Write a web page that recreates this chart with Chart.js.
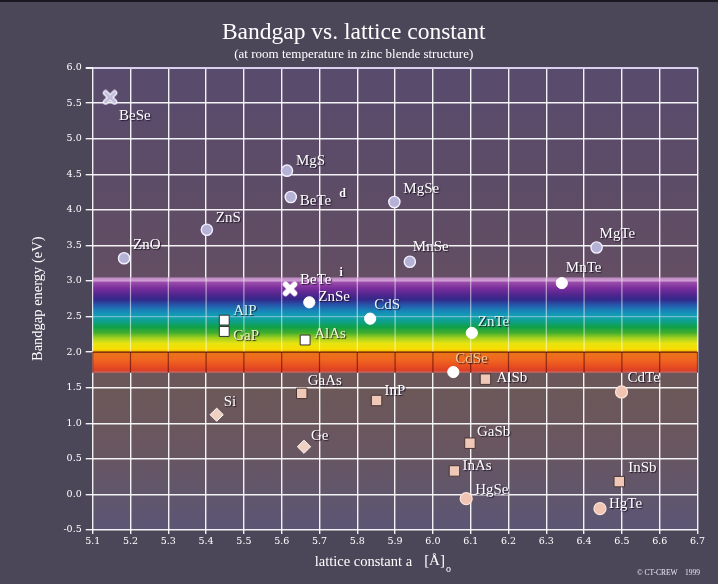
<!DOCTYPE html>
<html>
<head>
<meta charset="utf-8">
<script src="https://cdn.jsdelivr.net/npm/chart.js@4/dist/chart.umd.min.js"></script>
<style>
  html, body { margin: 0; padding: 0; background: #4b4759; }
  #wrap { width: 718px; height: 584px; }
</style>
</head>
<body>
<div id="wrap"><canvas id="chart" width="718" height="584"></canvas></div>
<script>
// ---------------- data ----------------
const materials = ['BeSe','ZnO','ZnS','MgS','BeTe d','MgSe','MnSe','MgTe','MnTe','BeTe i','ZnSe','CdS','ZnTe','CdSe',
                   'AlP','GaP','AlAs','AlSb','CdTe','GaAs','InP','Si','Ge','GaSb','InAs','InSb','HgSe','HgTe'];
const latticeConstant = [5.146,5.183,5.402,5.614,5.624,5.898,5.939,6.433,6.341,5.622,5.673,5.834,6.103,6.054,
                         5.448,5.448,5.662,6.139,6.499,5.653,5.851,5.428,5.659,6.098,6.057,6.493,6.088,6.442];
const bandgapEnergy = [5.58,3.32,3.72,4.55,4.18,4.11,3.27,3.47,2.97,2.89,2.70,2.47,2.27,1.72,
                       2.45,2.29,2.17,1.62,1.44,1.42,1.32,1.12,0.67,0.72,0.33,0.18,-0.06,-0.20];
const markerGroup = ['wideCross','wide','wide','wide','wide','wide','wide','wide','visible','visibleCross','visible','visible','visible','visible',
                     'visibleSquare','visibleSquare','visibleSquare','narrowSquare','narrowCircle','narrowSquare','narrowSquare','narrowDiamond','narrowDiamond',
                     'narrowSquare','narrowSquare','narrowSquare','narrowCircle','narrowCircle'];
const xTickValues = [5.1,5.2,5.3,5.4,5.5,5.6,5.7,5.8,5.9,6.0,6.1,6.2,6.3,6.4,6.5,6.6,6.7];
const yTickValues = [-0.5,0.0,0.5,1.0,1.5,2.0,2.5,3.0,3.5,4.0,4.5,5.0,5.5,6.0];
const visibleBand = [1.71, 3.05];

// ---------------- styles ----------------
function crossImage(fill, edge) {
  const c = document.createElement('canvas');
  c.width = 16; c.height = 16;
  const g = c.getContext('2d');
  g.lineCap = 'round';
  g.beginPath(); g.moveTo(3.5,3.5); g.lineTo(12.5,12.5); g.moveTo(12.5,3.5); g.lineTo(3.5,12.5);
  g.strokeStyle = edge; g.lineWidth = 5.5; g.stroke();
  g.strokeStyle = fill; g.lineWidth = 3; g.stroke();
  return c;
}
const groupStyles = {
  wide:          { pointStyle: 'circle', radius: 5.6, bg: '#b6b2d6', border: '#f2f0ff', bw: 1.4 },
  wideCross:     { pointStyle: crossImage('#c2bedb', '#f4f2ff'), radius: 8, bg: '#c2bedb', border: '#fff', bw: 0 },
  visible:       { pointStyle: 'circle', radius: 5.6, bg: '#ffffff', border: '#ffffff', bw: 1 },
  visibleCross:  { pointStyle: crossImage('#ffffff', '#ffffff'), radius: 8, bg: '#fff', border: '#fff', bw: 0 },
  visibleSquare: { pointStyle: 'rect', radius: 7, bg: '#ffffff', border: '#3a3030', bw: 1 },
  narrowSquare:  { pointStyle: 'rect', radius: 7.4, bg: '#f0c8b8', border: '#4a3434', bw: 1 },
  narrowCircle:  { pointStyle: 'circle', radius: 6, bg: '#f2c4b4', border: '#fbe4da', bw: 1.2 },
  narrowDiamond: { pointStyle: 'rectRot', radius: 6.6, bg: '#f0d0c0', border: '#ffffff', bw: 1 }
};
const labelOffsets = {
  'BeSe':[9,19],'ZnO':[9,-13],'ZnS':[9,-12],'MgS':[9,-10],'BeTe d':[9,4],'MgSe':[9,-13],'MnSe':[3,-15],
  'MgTe':[3,-13],'MnTe':[4,-15],'BeTe i':[10,-9],'ZnSe':[9,-5],'CdS':[4,-14],'ZnTe':[6,-11],'CdSe':[2,-13],
  'AlP':[9,-9],'GaP':[9,5],'AlAs':[9,-6],'AlSb':[11,-1],'CdTe':[6,-14],'GaAs':[6,-12],'InP':[8,-9],
  'Si':[7,-13],'Ge':[7,-11],'GaSb':[7,-11],'InAs':[8,-5],'InSb':[9,-14],'HgSe':[9,-9],'HgTe':[9,-5]
};
const labelColors = { 'CdSe':'#f6c890', 'AlP':'#d8f6f4', 'GaP':'#f2f2c8', 'AlAs':'#f4f4dc', 'ZnTe':'#e2fbf2', 'CdS':'#e6f2ff' };
const SERIF = '"Liberation Serif", "Times New Roman", serif';

// ---------------- datasets ----------------
const groupOrder = ['wide','wideCross','visible','visibleCross','visibleSquare','narrowSquare','narrowCircle','narrowDiamond'];
const datasets = groupOrder.map(gname => {
  const idx = materials.map((m, i) => i).filter(i => markerGroup[i] === gname);
  const st = groupStyles[gname];
  return {
    label: gname,
    materialNames: idx.map(i => materials[i]),
    data: idx.map(i => ({ x: latticeConstant[i], y: bandgapEnergy[i] })),
    pointStyle: st.pointStyle,
    pointRadius: st.radius,
    pointBackgroundColor: st.bg,
    pointBorderColor: st.border,
    pointBorderWidth: st.bw,
    showLine: false
  };
});

// ---------------- plugins ----------------
const backgroundPlugin = {
  id: 'backgrounds',
  beforeDraw(chart) {
    const { ctx, chartArea: a, width, height } = chart;
    ctx.save();
    ctx.fillStyle = '#4b4759';
    ctx.fillRect(0, 0, width, height);
    ctx.fillStyle = '#1a1820';
    ctx.fillRect(0, 0, width, 2);
    const g = ctx.createLinearGradient(0, a.top, 0, a.bottom);
    g.addColorStop(0.00, '#584b6d');
    g.addColorStop(0.25, '#5d4c67');
    g.addColorStop(0.45, '#634e63');
    g.addColorStop(0.70, '#6c5859');
    g.addColorStop(0.82, '#695660');
    g.addColorStop(1.00, '#5b5675');
    ctx.fillStyle = g;
    ctx.fillRect(a.left, a.top, a.right - a.left, a.bottom - a.top);
    ctx.restore();
  }
};

const rainbowPlugin = {
  id: 'rainbow',
  beforeDatasetsDraw(chart) {
    const { ctx, chartArea: a, scales: { x, y } } = chart;
    const top = y.getPixelForValue(visibleBand[1]);
    const bot = y.getPixelForValue(visibleBand[0]);
    const stops = [
      [3.05,'#b884c0'],[3.02,'#c894cc'],[2.98,'#9a4caa'],[2.90,'#7a2e9c'],[2.81,'#52268e'],[2.74,'#34288a'],
      [2.67,'#2852a8'],[2.59,'#1a80b8'],[2.51,'#12a0b4'],[2.43,'#0ea08a'],[2.35,'#10a048'],[2.27,'#44ae2c'],
      [2.20,'#a0d020'],[2.12,'#e8e410'],[2.04,'#f8dc00'],[2.01,'#f2b400'],[1.99,'#ea7418'],[1.90,'#f06820'],
      [1.80,'#e84e20'],[1.745,'#dc4024'],[1.71,'#c86a68']
    ];
    const g = ctx.createLinearGradient(0, top, 0, bot);
    stops.forEach(([v, c]) => {
      const p = (y.getPixelForValue(v) - top) / (bot - top);
      g.addColorStop(Math.min(1, Math.max(0, p)), c);
    });
    ctx.save();
    ctx.fillStyle = g;
    ctx.fillRect(a.left, top, a.right - a.left, bot - top);
    const mid = y.getPixelForValue(2.0);
    x.ticks.forEach(t => {
      const px = x.getPixelForValue(t.value);
      ctx.lineWidth = 1.2;
      ctx.strokeStyle = 'rgba(255,255,255,0.55)';
      ctx.beginPath(); ctx.moveTo(px, top); ctx.lineTo(px, mid); ctx.stroke();
      ctx.strokeStyle = 'rgba(90,10,10,0.65)';
      ctx.beginPath(); ctx.moveTo(px, mid); ctx.lineTo(px, bot); ctx.stroke();
    });
    y.ticks.forEach(t => {
      if (t.value <= visibleBand[0] || t.value >= visibleBand[1]) return;
      const py = y.getPixelForValue(t.value);
      ctx.strokeStyle = t.value === 2.0 ? 'rgba(80,10,10,0.85)' : 'rgba(255,230,255,0.4)';
      ctx.lineWidth = 1.3;
      ctx.beginPath(); ctx.moveTo(a.left, py); ctx.lineTo(a.right, py); ctx.stroke();
    });
    ctx.restore();
  }
};

const labelPlugin = {
  id: 'pointLabels',
  afterDatasetsDraw(chart) {
    const { ctx } = chart;
    ctx.save();
    ctx.textBaseline = 'middle';
    ctx.textAlign = 'left';
    ctx.shadowColor = 'rgba(20,10,30,0.85)';
    ctx.shadowOffsetX = 1; ctx.shadowOffsetY = 1; ctx.shadowBlur = 1;
    chart.data.datasets.forEach((ds, di) => {
      const meta = chart.getDatasetMeta(di);
      meta.data.forEach((pt, i) => {
        const name = ds.materialNames[i];
        const off = labelOffsets[name] || [8, -10];
        const parts = name.split(' ');
        const tx = pt.x + off[0], ty = pt.y + off[1];
        ctx.fillStyle = labelColors[name] || '#ffffff';
        ctx.font = '15px ' + SERIF;
        ctx.fillText(parts[0], tx, ty);
        if (parts[1]) {
          const w = ctx.measureText(parts[0]).width;
          ctx.font = 'bold 12px ' + SERIF;
          ctx.fillText(parts[1], tx + w + 8, ty - 7);
        }
      });
    });
    ctx.restore();
  }
};

const annotationsPlugin = {
  id: 'axisTexts',
  afterDraw(chart) {
    const { ctx, scales: { x } } = chart;
    ctx.save();
    ctx.fillStyle = '#ffffff';
    ctx.textBaseline = 'middle';
    ctx.textAlign = 'left';
    const yMid = 562;
    const startX = x.getPixelForValue(5.6) + 33;
    ctx.font = '14.5px ' + SERIF;
    const t1 = 'lattice constant a';
    ctx.fillText(t1, startX, yMid);
    const w1 = ctx.measureText(t1).width;
    ctx.font = '15px ' + SERIF;
    const t2 = '[Å]';
    ctx.fillText(t2, startX + w1 + 12, yMid - 1);
    const w2 = ctx.measureText(t2).width;
    ctx.font = '10px ' + SERIF;
    ctx.fillText('o', startX + w1 + 12 + w2 + 1, yMid + 7);
    ctx.font = '7.5px ' + SERIF;
    ctx.fillStyle = '#e8e6f0';
    ctx.fillText('© CT-CREW', 637, 573);
    ctx.fillText('1999', 685, 573);
    ctx.restore();
  }
};

// ---------------- chart ----------------
const tickFont = { family: '"DejaVu Serif", serif', size: 9.5 };
new Chart(document.getElementById('chart'), {
  type: 'scatter',
  data: { datasets },
  options: {
    responsive: false,
    animation: false,
    devicePixelRatio: 1,
    layout: { padding: { left: 10, right: 20.5, top: 0, bottom: 0 } },
    plugins: {
      legend: { display: false },
      tooltip: { enabled: false },
      title: {
        display: true, text: 'Bandgap vs. lattice constant', color: '#ffffff',
        font: { family: SERIF, size: 23.5, weight: 'normal', lineHeight: 1 },
        padding: { top: 21, bottom: 0 }
      },
      subtitle: {
        display: true, text: '(at room temperature in zinc blende structure)', color: '#ffffff',
        font: { family: SERIF, size: 13, weight: 'normal', lineHeight: 1 },
        padding: { top: 3.5, bottom: 6.5 }
      }
    },
    scales: {
      x: {
        type: 'linear', min: 5.1, max: 6.7,
        afterBuildTicks: s => { s.ticks = xTickValues.map(v => ({ value: v })); },
        afterFit: s => { s.height = 54; },
        ticks: { callback: v => Number(v).toFixed(1), color: '#ffffff', font: tickFont, padding: 2, maxRotation: 0, autoSkip: false },
        grid: { color: 'rgba(255,255,255,0.92)', lineWidth: 1.4, tickLength: 4, tickColor: 'rgba(255,255,255,0.92)' },
        border: { display: false }
      },
      y: {
        type: 'linear', min: -0.5, max: 6.0,
        afterBuildTicks: s => { s.ticks = yTickValues.map(v => ({ value: v })); },
        afterFit: s => { s.width = 82.7; },
        ticks: { callback: v => Number(v).toFixed(1), color: '#ffffff', font: tickFont, padding: 4, autoSkip: false },
        grid: {
          color: c => (c.tick && c.tick.value === 6.0) ? '#d8d0ec' : 'rgba(255,255,255,0.92)',
          lineWidth: c => (c.tick && c.tick.value === 6.0) ? 2 : 1.4,
          tickLength: 7, tickColor: 'rgba(255,255,255,0.92)'
        },
        border: { display: false },
        title: {
          display: true, text: 'Bandgap energy (eV)', color: '#ffffff',
          font: { family: SERIF, size: 14.5, weight: 'normal' },
          padding: { top: 19, bottom: 0 }
        }
      }
    }
  },
  plugins: [backgroundPlugin, rainbowPlugin, labelPlugin, annotationsPlugin]
});
</script>
</body>
</html>
